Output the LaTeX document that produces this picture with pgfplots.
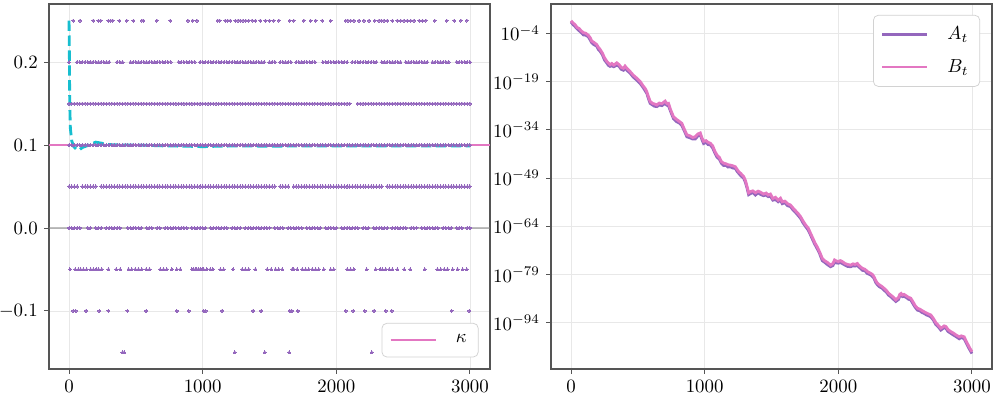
\documentclass[border=0pt]{standalone}
\usepackage{pgfplots}
\usepackage{pgfplotstable}
\pgfplotsset{compat=1.18}
\definecolor{tpurple}{HTML}{9467BD}
\definecolor{tpink}{HTML}{E377C2}
\definecolor{tcyan}{HTML}{17BECF}
\definecolor{spine}{HTML}{555555}

\pgfplotstableread{
t p20 p15 p10 p05 p00
0 .2 .15 .1 .05 0
20 nan .15 .1 .05 0
40 nan .15 .1 .05 0
60 .2 .15 .1 .05 0
80 .2 .15 .1 nan 0
100 .2 .15 .1 .05 nan
120 .2 .15 .1 .05 nan
140 .2 .15 .1 .05 0
160 .2 .15 .1 .05 0
180 .2 .15 .1 .05 nan
200 .2 .15 .1 .05 0
220 .2 .15 .1 nan 0
240 .2 .15 .1 .05 0
260 .2 .15 .1 .05 nan
280 .2 .15 .1 .05 0
300 .2 .15 .1 .05 0
320 nan .15 .1 .05 0
340 nan .15 .1 .05 0
360 .2 .15 .1 .05 0
380 .2 .15 .1 .05 0
400 .2 .15 .1 .05 nan
420 nan .15 .1 .05 nan
440 nan .15 .1 .05 0
460 .2 .15 .1 .05 0
480 .2 .15 .1 .05 0
500 .2 .15 .1 .05 0
520 .2 .15 .1 .05 0
540 .2 .15 .1 .05 0
560 .2 .15 .1 .05 nan
580 .2 .15 .1 .05 0
600 .2 .15 .1 .05 0
620 .2 .15 .1 .05 0
640 .2 .15 .1 .05 nan
660 .2 .15 .1 .05 0
680 .2 .15 .1 .05 0
700 .2 .15 .1 .05 nan
720 .2 .15 .1 .05 0
740 .2 .15 .1 .05 0
760 .2 .15 .1 .05 0
780 nan .15 .1 .05 0
800 nan .15 .1 .05 0
820 .2 .15 .1 .05 0
840 .2 .15 .1 .05 0
860 .2 .15 .1 .05 0
880 .2 .15 .1 .05 0
900 .2 .15 .1 .05 nan
920 .2 .15 .1 .05 0
940 .2 .15 .1 .05 0
960 nan .15 .1 .05 0
980 .2 .15 .1 .05 0
1000 .2 .15 .1 .05 0
1020 .2 .15 .1 .05 0
1040 .2 .15 .1 .05 nan
1060 .2 .15 .1 .05 0
1080 .2 .15 .1 .05 0
1100 .2 .15 .1 .05 0
1120 .2 .15 .1 .05 0
1140 .2 .15 .1 .05 0
1160 .2 .15 .1 .05 0
1180 .2 .15 .1 .05 0
1200 .2 .15 .1 .05 nan
1220 .2 .15 .1 .05 0
1240 .2 .15 .1 .05 0
1260 .2 .15 .1 .05 0
1280 .2 .15 .1 .05 0
1300 .2 .15 .1 .05 nan
1320 .2 .15 .1 .05 0
1340 .2 .15 .1 .05 0
1360 .2 .15 .1 .05 0
1380 .2 .15 .1 .05 0
1400 .2 .15 .1 .05 0
1420 .2 .15 .1 .05 0
1440 .2 .15 .1 .05 0
1460 .2 .15 .1 .05 0
1480 nan .15 .1 .05 0
1500 .2 .15 .1 .05 0
1520 .2 .15 .1 .05 nan
1540 .2 .15 .1 .05 0
1560 nan .15 .1 nan 0
1580 .2 .15 .1 .05 0
1600 .2 .15 .1 .05 0
1620 .2 .15 .1 .05 nan
1640 .2 .15 .1 .05 0
1660 .2 .15 .1 nan 0
1680 nan .15 .1 .05 0
1700 .2 .15 .1 .05 0
1720 .2 .15 .1 .05 0
1740 .2 .15 .1 .05 0
1760 .2 .15 .1 .05 nan
1780 .2 .15 .1 .05 0
1800 .2 .15 .1 .05 0
1820 .2 .15 .1 .05 0
1840 .2 .15 .1 .05 0
1860 nan .15 .1 .05 0
1880 nan .15 .1 .05 0
1900 .2 .15 .1 .05 nan
1920 .2 .15 .1 .05 0
1940 .2 .15 .1 .05 0
1960 .2 .15 .1 .05 0
1980 .2 .15 .1 .05 0
2000 .2 .15 .1 .05 0
2020 .2 .15 .1 .05 nan
2040 .2 .15 .1 .05 0
2060 .2 .15 .1 .05 0
2080 .2 .15 .1 .05 0
2100 nan .15 .1 .05 0
2120 .2 nan .1 .05 0
2140 .2 nan .1 .05 0
2160 .2 .15 .1 .05 0
2180 .2 .15 .1 .05 nan
2200 .2 .15 .1 .05 0
2220 .2 .15 .1 .05 0
2240 .2 .15 .1 .05 0
2260 .2 .15 .1 .05 nan
2280 .2 .15 .1 .05 0
2300 .2 .15 .1 .05 0
2320 nan .15 .1 .05 0
2340 .2 .15 .1 .05 0
2360 .2 .15 .1 nan 0
2380 .2 .15 .1 .05 0
2400 .2 .15 .1 .05 nan
2420 .2 .15 .1 .05 0
2440 .2 .15 .1 .05 0
2460 .2 .15 .1 .05 0
2480 .2 .15 .1 .05 0
2500 nan .15 .1 .05 0
2520 .2 .15 .1 .05 0
2540 .2 .15 .1 .05 nan
2560 .2 .15 .1 .05 0
2580 .2 .15 .1 .05 0
2600 .2 .15 .1 .05 0
2620 .2 .15 .1 .05 nan
2640 .2 .15 .1 .05 0
2660 .2 .15 .1 .05 0
2680 .2 .15 .1 .05 0
2700 nan .15 .1 .05 0
2720 .2 .15 .1 .05 0
2740 .2 .15 .1 .05 0
2760 .2 .15 .1 .05 0
2780 .2 .15 .1 .05 nan
2800 .2 .15 .1 .05 0
2820 .2 .15 .1 .05 0
2840 .2 .15 .1 .05 0
2860 nan .15 .1 .05 0
2880 nan .15 .1 .05 nan
2900 .2 .15 .1 .05 0
2920 .2 .15 .1 .05 0
2940 .2 .15 .1 .05 0
2960 .2 .15 .1 .05 nan
2980 .2 .15 .1 .05 0
3000 .2 .15 .1 .05 0
}\dense

\pgfplotstableread{
t b a
0 -0.1 -0.5
15 -0.8 -1.3
30 -1.3 -1.9
45 -2.2 -2.6
60 -2.5 -3.2
75 -3.2 -3.7
92 -3.8 -4.5
110 -4.0 -4.6
129 -4.6 -5.1
145 -5.5 -6.2
154 -6.4 -6.9
170 -6.8 -7.5
192 -7.5 -8.0
205 -8.4 -9.1
217 -9.0 -9.6
235 -10.2 -10.7
250 -11.6 -12.3
267 -12.7 -13.2
280 -13.3 -14.0
292 -13.8 -14.3
305 -13.4 -14.1
320 -13.9 -14.4
342 -13.2 -13.9
360 -13.8 -14.3
375 -14.6 -15.2
392 -14.9 -15.5
404 -14.2 -14.8
420 -15.0 -15.6
442 -15.9 -16.4
465 -17.0 -17.6
490 -17.9 -18.5
517 -19.0 -19.6
540 -20.4 -20.9
555 -21.2 -21.9
567 -22.2 -22.7
580 -23.8 -24.4
592 -25.2 -25.8
610 -25.8 -26.3
625 -26.0 -26.7
642 -26.3 -26.8
660 -25.7 -26.3
680 -25.9 -26.5
704 -25.1 -25.8
718 -25.9 -26.4
729 -25.8 -26.5
745 -27.8 -28.3
767 -30.0 -30.6
790 -30.8 -31.5
810 -31.4 -31.9
829 -32.0 -32.7
845 -33.6 -34.1
867 -35.6 -36.2
890 -35.9 -36.5
910 -36.4 -36.9
929 -36.2 -36.9
950 -35.3 -35.9
967 -35.0 -35.6
980 -36.6 -37.1
992 -37.6 -38.3
1010 -37.4 -37.9
1025 -37.9 -38.6
1042 -38.2 -38.7
1060 -39.0 -39.7
1075 -40.6 -41.1
1092 -41.9 -42.5
1110 -42.6 -43.2
1125 -43.9 -44.4
1142 -44.4 -45.1
1160 -44.6 -45.1
1175 -44.9 -45.6
1192 -45.0 -45.5
1210 -45.2 -45.9
1229 -45.5 -46.0
1242 -46.3 -46.9
1254 -47.0 -47.5
1270 -47.6 -48.3
1292 -48.6 -49.1
1305 -49.8 -50.4
1318 -51.8 -52.3
1329 -53.6 -54.2
1345 -53.2 -53.8
1360 -53.0 -53.5
1380 -53.6 -54.3
1400 -53.1 -53.6
1417 -53.4 -54.1
1440 -54.0 -54.5
1460 -53.7 -54.3
1475 -54.3 -54.8
1492 -54.0 -54.7
1510 -55.4 -55.9
1530 -55.0 -55.7
1550 -55.9 -56.4
1567 -55.3 -55.9
1580 -56.4 -57.0
1600 -56.2 -56.7
1620 -57.0 -57.6
1642 -57.4 -57.9
1660 -58.3 -58.9
1680 -59.2 -59.7
1700 -60.1 -60.7
1717 -61.0 -61.5
1735 -62.3 -62.9
1755 -63.6 -64.1
1775 -64.6 -65.2
1792 -66.2 -66.7
1810 -67.8 -68.4
1825 -69.2 -69.7
1842 -70.4 -71.0
1860 -72.0 -72.5
1880 -74.0 -74.7
1900 -74.8 -75.3
1920 -75.3 -76.0
1942 -76.1 -76.6
1960 -75.6 -76.2
1972 -74.5 -75.0
1985 -74.8 -75.4
2000 -75.0 -75.5
2015 -74.7 -75.3
2030 -75.0 -75.6
2050 -75.6 -76.1
2070 -75.9 -76.5
2092 -76.1 -76.6
2110 -75.7 -76.3
2125 -75.9 -76.4
2142 -75.6 -76.2
2160 -76.4 -76.9
2180 -77.1 -77.7
2200 -77.4 -77.9
2217 -78.1 -78.7
2240 -78.6 -79.1
2255 -79.0 -79.6
2267 -79.7 -80.2
2280 -80.9 -81.5
2292 -81.7 -82.2
2310 -82.3 -82.9
2325 -82.7 -83.2
2342 -83.3 -83.9
2360 -84.0 -84.5
2375 -84.8 -85.4
2392 -85.4 -85.9
2410 -86.0 -86.6
2430 -86.9 -87.4
2450 -86.2 -86.8
2460 -85.2 -85.7
2470 -84.9 -85.5
2480 -85.4 -85.9
2492 -85.2 -85.8
2510 -85.7 -86.2
2525 -86.1 -86.7
2542 -86.4 -86.9
2560 -87.6 -88.2
2575 -88.7 -89.2
2592 -89.5 -90.1
2610 -89.8 -90.3
2625 -90.2 -90.8
2642 -90.6 -91.1
2660 -91.0 -91.6
2675 -91.3 -91.8
2692 -91.6 -92.2
2710 -92.6 -93.1
2730 -94.0 -94.6
2750 -94.9 -95.4
2767 -95.7 -96.3
2780 -95.4 -95.9
2792 -95.0 -95.6
2805 -95.2 -95.7
2820 -96.1 -96.7
2842 -96.8 -97.3
2860 -97.2 -97.8
2880 -97.8 -98.3
2905 -98.4 -99.0
2920 -98.1 -98.6
2942 -98.4 -99.0
2955 -99.6 -100.1
2970 -100.8 -101.4
2985 -102.0 -102.5
3000 -103.0 -103.6
}\curves

\pgfplotsset{
  mystyle/.style={
    scale only axis, width=233.73pt, height=193.45pt,
    xmin=-150, xmax=3150,
    xtick={0,1000,2000,3000},
    xticklabels={$0$,$1000$,$2000$,$3000$},
    axis line style={spine, line width=0.6pt},
    tick align=outside, tick pos=left,
    major tick length=2.4pt,
    tick style={spine, line width=0.5pt},
    grid=major, grid style={gray!18, line width=0.4pt},
    legend cell align=left,
    legend style={draw=gray!35, rounded corners=2.5pt, fill=white, text opacity=1,
      inner xsep=4pt, inner ysep=4pt, row sep=5pt,
      /tikz/every odd column/.append style={column sep=8pt}},
    legend image code/.code={\draw[##1, line width=1.2pt] (0pt,0pt) -- (24pt,0pt);},
  },
  pdots/.style={only marks, color=tpurple, mark=*, mark size=0.8pt,
    mark options={solid, fill=tpurple, draw=tpurple, line width=0pt}, forget plot},
}

\begin{document}
\begin{tikzpicture}
\path[use as bounding box] (-25.97pt,-15.9pt) rectangle (502.44pt,195.57pt);
\begin{axis}[mystyle, at={(0pt,0pt)}, anchor=south west,
  ymin=-0.17, ymax=0.27,
  ytick={-0.1,0,0.1,0.2}, yticklabels={$-0.1$,$0.0$,$0.1$,$0.2$},
  legend style={at={(0.974,0.032)}, anchor=south east}]
\addplot[gray, opacity=0.5, line width=0.9pt, forget plot] coordinates {(-150,0) (3150,0)};
\addplot[pdots] table[x=t, y=p20] {\dense};
\addplot[pdots] table[x=t, y=p15] {\dense};
\addplot[pdots] table[x=t, y=p10] {\dense};
\addplot[pdots] table[x=t, y=p05] {\dense};
\addplot[pdots] table[x=t, y=p00] {\dense};
\addplot[pdots] coordinates {(32,.25)(82,.25)(182,.25)(220,.25)(237,.25)(295,.25)(312,.25)(327,.25)(377,.25)(432,.25)(482,.25)(545,.25)(557,.25)(657,.25)(757,.25)(890,.25)(925,.25)(957,.25)(1112,.25)(1127,.25)(1170,.25)(1187,.25)(1207,.25)(1245,.25)(1265,.25)(1282,.25)(1302,.25)(1322,.25)(1345,.25)(1370,.25)(1395,.25)(1432,.25)(1470,.25)(1500,.25)(1532,.25)(1570,.25)(1652,.25)(1682,.25)(1757,.25)(1807,.25)(1845,.25)(1895,.25)(1957,.25)(2070,.25)(2087,.25)(2107,.25)(2132,.25)(2170,.25)(2207,.25)(2245,.25)(2287,.25)(2320,.25)(2337,.25)(2357,.25)(2382,.25)(2420,.25)(2457,.25)(2482,.25)(2507,.25)(2532,.25)(2557,.25)(2582,.25)(2620,.25)(2645,.25)(2670,.25)(2737,.25)(2827,.25)(2882,.25)(2932,.25)(2977,.25)};
\addplot[pdots] coordinates {(7,-.05)(45,-.05)(70,-.05)(87,-.05)(107,-.05)(132,-.05)(162,-.05)(182,-.05)(202,-.05)(220,-.05)(245,-.05)(295,-.05)(352,-.05)(382,-.05)(445,-.05)(470,-.05)(495,-.05)(520,-.05)(545,-.05)(577,-.05)(602,-.05)(682,-.05)(707,-.05)(732,-.05)(770,-.05)(807,-.05)(832,-.05)(920,-.05)(932,-.05)(945,-.05)(957,-.05)(970,-.05)(982,-.05)(995,-.05)(1007,-.05)(1032,-.05)(1057,-.05)(1077,-.05)(1132,-.05)(1157,-.05)(1227,-.05)(1295,-.05)(1320,-.05)(1345,-.05)(1395,-.05)(1482,-.05)(1512,-.05)(1545,-.05)(1570,-.05)(1595,-.05)(1670,-.05)(1682,-.05)(1707,-.05)(1745,-.05)(1770,-.05)(1795,-.05)(1820,-.05)(1845,-.05)(1870,-.05)(1907,-.05)(1957,-.05)(1982,-.05)(2082,-.05)(2107,-.05)(2132,-.05)(2227,-.05)(2295,-.05)(2327,-.05)(2345,-.05)(2370,-.05)(2395,-.05)(2420,-.05)(2457,-.05)(2507,-.05)(2552,-.05)(2662,-.05)(2757,-.05)(2782,-.05)(2807,-.05)(2832,-.05)(2870,-.05)(2907,-.05)(2945,-.05)(2977,-.05)};
\addplot[pdots] coordinates {(32,-.1)(50,-.1)(127,-.1)(227,-.1)(295,-.1)(437,-.1)(577,-.1)(807,-.1)(895,-.1)(1007,-.1)(1022,-.1)(1145,-.1)(1377,-.1)(1437,-.1)(1652,-.1)(1667,-.1)(1712,-.1)(2070,-.1)(2127,-.1)(2212,-.1)(2282,-.1)(2370,-.1)(2415,-.1)(2862,-.1)(2995,-.1)};
\addplot[pdots] coordinates {(400,-.15)(412,-.15)(1240,-.15)(1465,-.15)(1647,-.15)(2265,-.15)};
\addplot[tpink, line width=1.1pt] coordinates {(-150,0.1) (3150,0.1)};
\addlegendentry{$\kappa$}
\addplot[tcyan, line width=1.5pt, dash pattern=on 5.5pt off 2.4pt, forget plot] coordinates {(0,0.25)(3,0.2)(5,0.15)(10,0.12)(20,0.105)(35,0.098)(55,0.095)(75,0.094)(100,0.097)(150,0.1)(200,0.1035)(250,0.102)(300,0.1005)(400,0.1)(500,0.1)(700,0.099)(900,0.0985)(1000,0.098)(1100,0.0985)(1300,0.099)(1500,0.0985)(1800,0.099)(2000,0.099)(2500,0.099)(3000,0.099)};
\end{axis}
\begin{axis}[mystyle, at={(266.06pt,0pt)}, anchor=south west,
  ymin=-108.4, ymax=5.1,
  ytick={-94,-79,-64,-49,-34,-19,-4},
  yticklabels={$10^{-94}$,$10^{-79}$,$10^{-64}$,$10^{-49}$,$10^{-34}$,$10^{-19}$,$10^{-4}$},
  legend style={at={(0.973,0.970)}, anchor=north east}]
\addplot[tpurple, line width=1.5pt] table[x=t, y=a] {\curves};
\addlegendentry{$A_t$}
\addplot[tpink, line width=1.5pt] table[x=t, y=b] {\curves};
\addlegendentry{$B_t$}
\end{axis}
\end{tikzpicture}
\end{document}
